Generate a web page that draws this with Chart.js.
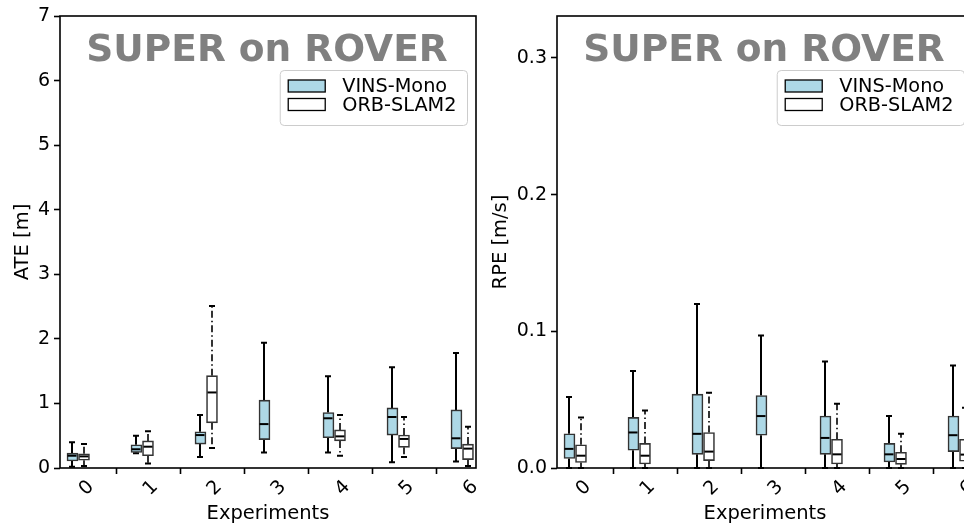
<!DOCTYPE html>
<html><head><meta charset="utf-8">
<script src="https://cdn.jsdelivr.net/npm/chart.js@4.4.0/dist/chart.umd.min.js"></script>
<style>
html,body{margin:0;padding:0;background:#fff;overflow:hidden;width:964px;height:524px;}
#wrap{position:relative;width:964px;height:524px;overflow:hidden;background:#fff;}
canvas{position:absolute;top:0;}
</style></head><body>
<div id="wrap">
<canvas id="c1" width="482" height="524" style="left:0px"></canvas>
<canvas id="c2" width="500" height="524" style="left:480px"></canvas>
</div>
<script>
// ---------- data ----------
const experiments = ['0','1','2','3','4','5','6'];
const seriesNames = ['VINS-Mono','ORB-SLAM2'];
const panelTitle = 'SUPER on ROVER';

// ATE [m]
const ateVinsMin = [0.02,0.23,0.17,0.24,0.24,0.09,0.10];
const ateVinsQ1  = [0.11,0.24,0.37,0.44,0.47,0.51,0.30];
const ateVinsMed = [0.19,0.29,0.51,0.68,0.77,0.79,0.46];
const ateVinsQ3  = [0.23,0.36,0.56,1.05,0.86,0.93,0.90];
const ateVinsMax = [0.40,0.50,0.82,1.94,1.42,1.56,1.78];
const ateOrbMin  = [0.03,0.07,0.31,null,0.19,0.17,0.03];
const ateOrbQ1   = [0.12,0.19,0.70,null,0.42,0.32,0.13];
const ateOrbMed  = [0.18,0.33,1.17,null,0.49,0.45,0.30];
const ateOrbQ3   = [0.22,0.42,1.43,null,0.59,0.51,0.37];
const ateOrbMax  = [0.37,0.57,2.51,null,0.82,0.79,0.64];
const ateTicks   = [0,1,2,3,4,5,6,7];

// RPE [m/s]
const rpeVinsMin = [0,0,0,0,0,0,0];
const rpeVinsQ1  = [0.007,0.013,0.010,0.024,0.010,0.0044,0.012];
const rpeVinsMed = [0.014,0.026,0.025,0.038,0.022,0.010,0.024];
const rpeVinsQ3  = [0.025,0.037,0.054,0.053,0.038,0.018,0.038];
const rpeVinsMax = [0.052,0.071,0.120,0.097,0.078,0.038,0.075];
const rpeOrbMin  = [0,0,0,null,0,0,0];
const rpeOrbQ1   = [0.004,0.003,0.0054,null,0.003,0.0027,0.005];
const rpeOrbMed  = [0.009,0.009,0.012,null,0.010,0.0066,0.0098];
const rpeOrbQ3   = [0.017,0.018,0.026,null,0.021,0.0115,0.021];
const rpeOrbMax  = [0.037,0.042,0.055,null,0.047,0.025,0.044];
const rpeTicks   = [0,0.1,0.2,0.3];

// ---------- styling ----------
const FONT = '"DejaVu Sans", "Liberation Sans", sans-serif';
const VINS_FILL = '#add8e6';
const BOX_EDGE = '#333333';
const BOX_W = 11;
const OFFSETS = [-0.18, 0];

function series(name, fill, offset, dash, mn, q1, med, q3, mx) {
  return {name, fill, offset, dash, mn, q1, med, q3, mx};
}

const boxPlugin = {
  id: 'boxplot',
  beforeDatasetsDraw(chart) {
    const {ctx, scales: {x, y}} = chart;
    const st = chart.options.plugins.boxplot.series;
    ctx.save();
    ctx.strokeStyle = '#000';
    st.forEach(s => {
      s.med.forEach((m, i) => {
        if (m == null) return;
        const cx = Math.round(x.getPixelForValue(i + s.offset));
        ctx.lineWidth = s.dash.length ? 1.6 : 2;
        ctx.setLineDash(s.dash);
        ctx.beginPath();
        ctx.moveTo(cx, y.getPixelForValue(s.q3[i]));
        ctx.lineTo(cx, y.getPixelForValue(s.mx[i]));
        ctx.moveTo(cx, y.getPixelForValue(s.q1[i]));
        ctx.lineTo(cx, y.getPixelForValue(s.mn[i]));
        ctx.stroke();
        ctx.setLineDash([]);
        ctx.lineWidth = 2;
        ctx.beginPath();
        [s.mx[i], s.mn[i]].forEach(v => {
          const py = y.getPixelForValue(v);
          ctx.moveTo(cx - 3, py); ctx.lineTo(cx + 3, py);
        });
        ctx.stroke();
      });
    });
    ctx.restore();
  },
  afterDatasetsDraw(chart) {
    const {ctx, scales: {x, y}} = chart;
    const st = chart.options.plugins.boxplot.series;
    ctx.save();
    ctx.strokeStyle = '#000';
    ctx.lineWidth = 2;
    st.forEach(s => {
      s.med.forEach((m, i) => {
        if (m == null) return;
        const cx = Math.round(x.getPixelForValue(i + s.offset));
        const py = y.getPixelForValue(m);
        ctx.beginPath();
        ctx.moveTo(cx - BOX_W / 2 + 1, py); ctx.lineTo(cx + BOX_W / 2 - 1, py);
        ctx.stroke();
      });
    });
    ctx.restore();
  },
  afterDraw(chart) {
    const {ctx, chartArea: a} = chart;
    const st = chart.options.plugins.boxplot.series;
    ctx.save();
    // frame
    ctx.strokeStyle = '#000';
    ctx.lineWidth = 1.6;
    ctx.strokeRect(a.left, a.top, a.right - a.left, a.bottom - a.top);
    // panel title
    ctx.fillStyle = '#808080';
    ctx.font = 'bold 37.5px ' + FONT;
    ctx.textAlign = 'center';
    ctx.textBaseline = 'alphabetic';
    ctx.fillText(panelTitle, (a.left + a.right) / 2 - 1, a.top + 45);
    // legend
    ctx.font = '19.3px ' + FONT;
    const tw = Math.max(...st.map(s => ctx.measureText(s.name).width));
    const fw = 62 + tw + 11, fh = 55;
    const fx = a.right - 8.5 - fw, fy = a.top + 54.5;
    ctx.beginPath();
    ctx.roundRect(fx, fy, fw, fh, 4);
    ctx.fillStyle = 'rgba(255,255,255,0.8)';
    ctx.fill();
    ctx.strokeStyle = '#cccccc';
    ctx.lineWidth = 1;
    ctx.stroke();
    st.forEach((s, k) => {
      const cy = fy + 15.5 + k * 18.5;
      ctx.fillStyle = s.fill;
      ctx.fillRect(fx + 8, cy - 6, 37, 12);
      ctx.strokeStyle = '#000';
      ctx.lineWidth = 1.3;
      ctx.strokeRect(fx + 8, cy - 6, 37, 12);
      ctx.fillStyle = '#000';
      ctx.textAlign = 'left';
      ctx.textBaseline = 'middle';
      ctx.fillText(s.name, fx + 62, cy + 1);
    });
    ctx.restore();
  }
};

function makeChart(id, yTitle, yTicks, yMax, yFmt, yWidth, rightPad, titlePad, st) {
  const datasets = st.map(s => ({
    label: s.name,
    data: s.q1.map((v, i) => v == null ? null : {x: i + s.offset, y: [v, s.q3[i]]}).filter(d => d),
    backgroundColor: s.fill,
    borderColor: BOX_EDGE,
    borderWidth: 1.6,
    borderSkipped: false,
    maxBarThickness: BOX_W,
    barPercentage: 1,
    categoryPercentage: 1,
    grouped: false
  }));
  return new Chart(document.getElementById(id), {
    type: 'bar',
    data: {datasets},
    plugins: [boxPlugin],
    options: {
      responsive: false,
      animation: false,
      devicePixelRatio: 1,
      layout: {padding: {top: 16, right: rightPad, left: 0, bottom: 0}},
      plugins: {
        legend: {display: false},
        tooltip: {enabled: false},
        boxplot: {series: st}
      },
      scales: {
        x: {
          type: 'linear',
          min: -0.375, max: 6.125,
          offset: false,
          afterBuildTicks: sc => { sc.ticks = experiments.map((c, i) => ({value: i})); },
          afterFit: sc => { sc.height = 56; sc.paddingLeft = 0; sc.paddingRight = 0; },
          ticks: {
            autoSkip: false, minRotation: 45, maxRotation: 45,
            color: '#000', font: {size: 19, family: FONT}, padding: 2, labelOffset: 7,
            callback: (v) => experiments[v]
          },
          grid: {display: true, drawOnChartArea: false, drawTicks: true, tickLength: 6, tickColor: '#000', tickWidth: 1.6},
          border: {display: false},
          title: {display: true, text: 'Experiments', color: '#000', font: {size: 19.5, family: FONT, lineHeight: 1.05}, padding: {top: 0, bottom: 0}}
        },
        y: {
          type: 'linear',
          min: 0, max: yMax,
          afterBuildTicks: sc => { sc.ticks = yTicks.map(v => ({value: v})); },
          afterFit: sc => { sc.width = yWidth; },
          ticks: {color: '#000', font: {size: 19, family: FONT}, padding: 4, callback: yFmt},
          grid: {display: true, drawOnChartArea: false, drawTicks: true, tickLength: 6, tickColor: '#000', tickWidth: 1.6},
          border: {display: false},
          title: {display: true, text: yTitle, color: '#000', font: {size: 19.5, family: FONT}, padding: {top: titlePad, bottom: 0}}
        }
      }
    }
  });
}

Chart.defaults.font.family = FONT;

makeChart('c1', 'ATE [m]', ateTicks, 7, v => String(v), 60, 6, 11, [
  series(seriesNames[0], VINS_FILL, OFFSETS[0], [], ateVinsMin, ateVinsQ1, ateVinsMed, ateVinsQ3, ateVinsMax),
  series(seriesNames[1], '#ffffff', OFFSETS[1], [7, 3, 1.5, 3], ateOrbMin, ateOrbQ1, ateOrbMed, ateOrbQ3, ateOrbMax)
]);
makeChart('c2', 'RPE [m/s]', rpeTicks, 0.3307, v => v.toFixed(1), 77, 7, 9, [
  series(seriesNames[0], VINS_FILL, OFFSETS[0], [], rpeVinsMin, rpeVinsQ1, rpeVinsMed, rpeVinsQ3, rpeVinsMax),
  series(seriesNames[1], '#ffffff', OFFSETS[1], [7, 3, 1.5, 3], rpeOrbMin, rpeOrbQ1, rpeOrbMed, rpeOrbQ3, rpeOrbMax)
]);
</script>
</body></html>
